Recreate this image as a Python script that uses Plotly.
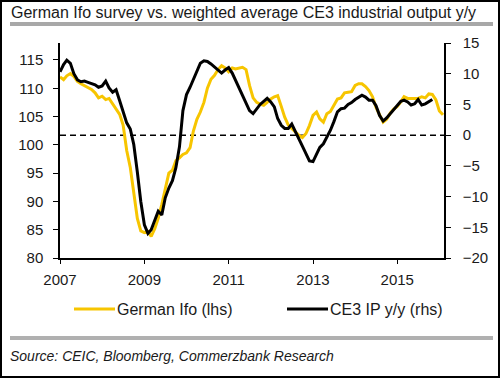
import plotly.graph_objects as go
import pandas as pd

# ---- data ----
ifo_start = "2007-01-01"
ifo_values = [
    112.0, 111.5, 112.2, 112.6, 112.1, 111.2, 110.8, 110.5, 110.2, 109.8, 109.2, 108.3,
    108.6, 108.0, 108.2, 107.3, 106.5, 105.4, 103.5, 99.0, 96.0, 91.5, 87.0, 84.8,
    84.5, 84.7, 83.8, 85.2, 87.0, 89.5, 92.3, 95.0, 95.5, 97.2, 97.7, 98.3,
    98.6, 99.5, 102.4, 104.5, 105.8, 107.5, 110.0, 111.6, 112.3, 113.3, 114.0, 113.6,
    112.9, 113.6, 113.4, 113.5, 113.7, 113.3, 110.5, 108.3, 107.5, 107.2, 107.0, 107.5,
    108.1, 108.5, 108.7, 106.8, 104.9, 103.5, 102.9, 102.3, 101.7, 101.3, 102.0, 103.4,
    105.2, 105.8, 104.6, 104.0, 105.5, 105.9, 107.0, 108.1, 108.3, 109.2, 109.3, 109.4,
    110.5, 110.8, 110.8, 110.3, 109.6, 108.5, 106.6, 105.3, 104.0, 104.5, 105.6, 106.3,
    106.8, 107.6, 108.5, 108.2, 108.2, 108.3, 108.2, 108.5, 108.3, 109.0, 108.9, 108.0,
    106.0, 105.3,
]
ip_start = "2007-01-01"
ip_values = [
    10.3, 11.5, 12.2, 11.7, 10.0, 9.0, 8.7, 8.8, 8.6, 8.4, 8.2, 7.8,
    8.0, 8.8, 7.7, 7.0, 7.4, 5.6, 3.8, 2.0, 1.0, -1.5, -6.0, -10.8,
    -14.6, -16.0, -15.4, -13.8, -12.4, -13.0, -10.2, -8.6, -7.4, -5.3, -1.9, 4.0,
    6.6, 7.8, 9.0, 10.5, 11.7, 12.1, 12.0, 11.6, 11.1, 10.6, 10.1, 10.6,
    11.0, 10.1, 9.0, 7.8, 6.5, 5.2, 4.0, 3.5, 4.3, 5.0, 5.5, 6.0,
    5.4, 4.6, 2.7, 1.6, 1.1, 1.1, 1.8, 0.5, -0.6, -1.8, -3.0, -4.2,
    -4.3, -3.0, -2.0, -1.4, -0.4, 0.8, 2.2, 3.8, 4.3, 4.4, 5.0, 5.3,
    5.8, 6.2, 6.5, 6.2, 5.7, 5.7, 4.8, 3.2, 2.3, 2.8, 3.5, 4.2,
    4.9, 5.5, 5.7, 5.4, 4.9, 5.1, 5.8, 4.9, 5.1, 5.5, 5.8,
]
x_tick_labels = ["2007", "2009", "2011", "2013", "2015"]
left_ticks = [80, 85, 90, 95, 100, 105, 110, 115]
right_ticks = [-20, -15, -10, -5, 0, 5, 10, 15]

ifo_dates = pd.date_range(ifo_start, periods=len(ifo_values), freq="MS")
ip_dates = pd.date_range(ip_start, periods=len(ip_values), freq="MS")

YELLOW = "#F7C500"
FONT = "Arial, Liberation Sans, sans-serif"
TXT = "#1a1a1a"
W, H = 500, 378
ML, MR, MT, MB = 60, 56, 43, 120
PW, PH = W - ML - MR, H - MT - MB


def px(x):
    return (x - ML) / PW


def py(y):
    return (H - MB - y) / PH


fig = go.Figure()
fig.add_trace(go.Scatter(x=ifo_dates, y=ifo_values, mode="lines", name="German Ifo (lhs)",
                         line=dict(color=YELLOW, width=3), yaxis="y"))
fig.add_trace(go.Scatter(x=ip_dates, y=ip_values, mode="lines", name="CE3 IP y/y (rhs)",
                         line=dict(color="black", width=3), yaxis="y2"))

shapes = [
    # zero line on right axis
    dict(type="line", xref="paper", x0=0, x1=1, yref="y2", y0=0, y1=0,
         line=dict(color="black", width=1.5, dash="6px,4px"), layer="below"),
    # title rule
    dict(type="line", xref="paper", yref="paper", x0=px(10), x1=px(493), y0=py(24), y1=py(24),
         line=dict(color="#A8A8A8", width=4)),
    # source rule
    dict(type="line", xref="paper", yref="paper", x0=px(10), x1=px(493), y0=py(338), y1=py(338),
         line=dict(color="#B0B0B0", width=4)),
    # legend samples
    dict(type="line", xref="paper", yref="paper", x0=px(74), x1=px(115), y0=py(309), y1=py(309),
         line=dict(color=YELLOW, width=3)),
    dict(type="line", xref="paper", yref="paper", x0=px(287), x1=px(328), y0=py(309), y1=py(309),
         line=dict(color="black", width=3)),
    # outer border
    dict(type="rect", xref="paper", yref="paper", x0=px(1), x1=px(499), y0=py(1), y1=py(377),
         line=dict(color="black", width=2)),
]

annotations = [
    dict(text="German Ifo survey vs. weighted average CE3 industrial output y/y",
         xref="paper", yref="paper", x=px(9), y=py(12.5), xanchor="left", yanchor="middle",
         showarrow=False, font=dict(family=FONT, size=16, color=TXT)),
    dict(text="German Ifo (lhs)", xref="paper", yref="paper", x=px(115), y=py(309),
         xanchor="left", yanchor="middle", showarrow=False,
         font=dict(family=FONT, size=16, color=TXT)),
    dict(text="CE3 IP y/y (rhs)", xref="paper", yref="paper", x=px(328), y=py(309),
         xanchor="left", yanchor="middle", showarrow=False,
         font=dict(family=FONT, size=16, color=TXT)),
    dict(text="<i>Source: CEIC, Bloomberg, Commerzbank Research</i>", xref="paper", yref="paper",
         x=px(8), y=py(356), xanchor="left", yanchor="middle", showarrow=False,
         font=dict(family=FONT, size=14, color=TXT)),
]

axis_common = dict(showline=True, linecolor="black", linewidth=1.5, ticks="outside",
                   tickcolor="black", showgrid=False, zeroline=False,
                   tickfont=dict(family=FONT, size=15, color=TXT))

fig.update_layout(
    width=W, height=H, margin=dict(l=ML, r=MR, t=MT, b=MB),
    paper_bgcolor="white", plot_bgcolor="white", showlegend=False,
    xaxis=dict(type="date", range=["2007-01-01", "2016-02-10"],
               tickvals=[f"{y}-01-01" for y in x_tick_labels], ticktext=x_tick_labels,
               ticklen=4, ticklabelstandoff=3, **axis_common),
    yaxis=dict(range=[80, 118], tickvals=left_ticks, ticklen=5, ticklabelstandoff=7, **axis_common),
    yaxis2=dict(range=[-20, 15], tickvals=right_ticks, ticklen=5, overlaying="y", side="right",
                ticklabelstandoff=9, **axis_common),
    shapes=shapes, annotations=annotations,
)

fig.write_html("out.html", config={"displayModeBar": False},
               post_script="document.body.style.margin='0';")
